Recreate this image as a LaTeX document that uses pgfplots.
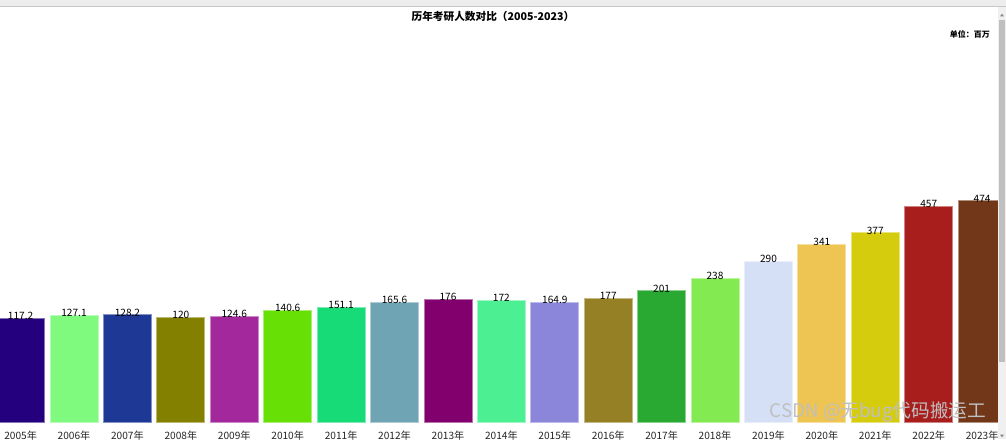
\documentclass[border=0pt]{standalone}
\usepackage{pgfplots}
\pgfplotsset{compat=1.18}
\usepackage{fontspec}
\setmainfont{Noto Sans CJK SC}

% bar colours, left to right
\definecolor{c05}{HTML}{24007E}
\definecolor{c06}{HTML}{80F97F}
\definecolor{c07}{HTML}{1E3895}
\definecolor{c08}{HTML}{838000}
\definecolor{c09}{HTML}{A3289C}
\definecolor{c10}{HTML}{67E006}
\definecolor{c11}{HTML}{17DB76}
\definecolor{c12}{HTML}{6FA4B4}
\definecolor{c13}{HTML}{82006E}
\definecolor{c14}{HTML}{4CEF92}
\definecolor{c15}{HTML}{8B86DA}
\definecolor{c16}{HTML}{958025}
\definecolor{c17}{HTML}{2AA932}
\definecolor{c18}{HTML}{84EA51}
\definecolor{c19}{HTML}{D5E0F6}
\definecolor{c20}{HTML}{EEC552}
\definecolor{c21}{HTML}{D5CC0E}
\definecolor{c22}{HTML}{A81E1D}
\definecolor{c23}{HTML}{723718}

\newcommand\yearbar[3]{\addplot[fill=#3, draw=#3!55!white, line width=0.6pt]
  coordinates {(#1,#2)};}

\begin{document}
\begin{tikzpicture}
\clip (0,0) rectangle (754.5pt,329.25pt);
\fill[white] (0,0) rectangle (754.5pt,329.25pt);
\begin{axis}[
    at={(0pt,12.5pt)}, anchor=south west,
    scale only axis,
    width=754.5pt, height=316.7pt,
    xmin=-0.3856, xmax=18.447,
    ymin=0, ymax=1281.3,
    ybar, bar width=36pt, bar shift=0pt,
    y filter/.expression={y+198.3},
    point meta=rawy,
    /pgf/number format/assume math mode=true,
    nodes near coords={\pgfmathprintnumber{\pgfplotspointmeta}},
    every node near coord/.append style={anchor=base, inner sep=0pt,
        yshift=-1pt, font=\fontsize{7.6}{8}\selectfont, text=black},
    axis line style={draw=none},
    major tick length=0pt,
    ytick=\empty,
    xtick={0,...,18},
    xticklabels={2005年,2006年,2007年,2008年,2009年,2010年,2011年,2012年,2013年,
      2014年,2015年,2016年,2017年,2018年,2019年,2020年,2021年,2022年,2023年},
    xticklabel style={anchor=north, inner sep=0pt, yshift=-6.2pt,
        font=\fontsize{7.6}{8}\selectfont, text=black!85},
    clip=true,
]
\yearbar{0}{117.2}{c05}
\yearbar{1}{127.1}{c06}
\yearbar{2}{128.2}{c07}
\yearbar{3}{120}{c08}
\yearbar{4}{124.6}{c09}
\yearbar{5}{140.6}{c10}
\yearbar{6}{151.1}{c11}
\yearbar{7}{165.6}{c12}
\yearbar{8}{176}{c13}
\yearbar{9}{172}{c14}
\yearbar{10}{164.9}{c15}
\yearbar{11}{177}{c16}
\yearbar{12}{201}{c17}
\yearbar{13}{238}{c18}
\yearbar{14}{290}{c19}
\yearbar{15}{341}{c20}
\yearbar{16}{377}{c21}
\yearbar{17}{457}{c22}
\yearbar{18}{474}{c23}
\end{axis}
% title and unit
\node[font=\bfseries\fontsize{8}{9}\selectfont] at (369.75pt,317.25pt)
  {历年考研人数对比（2005-2023）};
\node[font=\bfseries\fontsize{6}{7}\selectfont, anchor=east] at (746pt,303.75pt)
  {单位：百万};
% watermark
\node[font=\fontsize{14}{15}\selectfont, text=white!75!black] at (658.5pt,20pt)
  {CSDN @无bug代码搬运工};
% browser chrome: top band and scrollbar
\fill[black!7] (0,324.2pt) rectangle (754.5pt,329.25pt);
\draw[black!22, line width=0.6pt] (0,324.2pt) -- (754.5pt,324.2pt);
\fill[black!6] (748.5pt,0) rectangle (754.5pt,323.9pt);
\fill[black!25] (749.2pt,57.75pt) rectangle (753.8pt,314.5pt);
\fill[black!45] (750pt,317pt) -- (753pt,317pt) -- (751.5pt,319pt) -- cycle;
\fill[black!45] (750pt,3.2pt) -- (753pt,3.2pt) -- (751.5pt,1.2pt) -- cycle;
\end{tikzpicture}
\end{document}
